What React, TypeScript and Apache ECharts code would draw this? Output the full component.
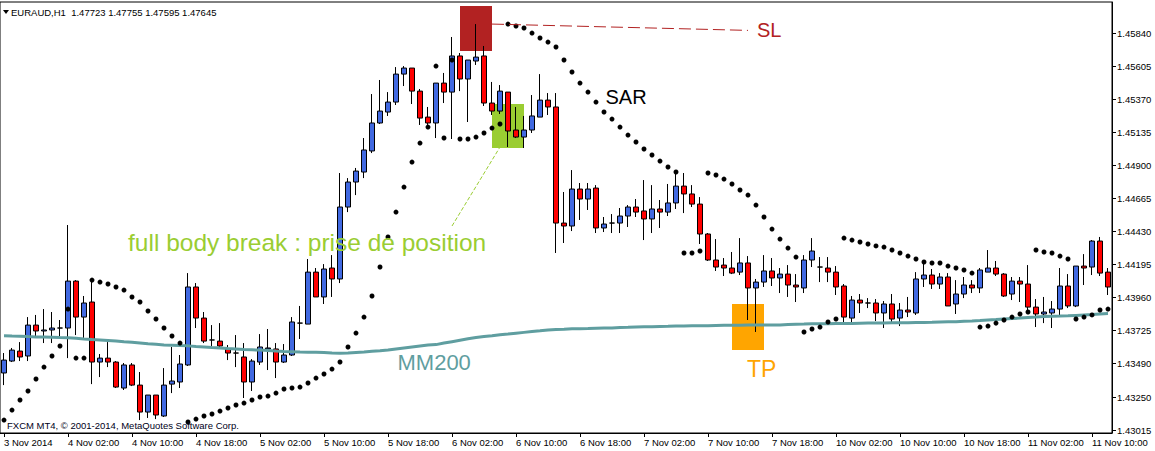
import React, { useEffect, useRef } from 'react';
import * as echarts from 'echarts';

// EURAUD H1 - prix (ordre des barres de gauche à droite)
const openPrices: number[] = [
  1.43421, 1.43506, 1.43577, 1.43542, 1.43762, 1.4372, 1.43727, 1.43741, 1.43741, 1.44075,
  1.43819, 1.43926, 1.43499, 1.43527, 1.43499, 1.43314, 1.43478, 1.43335, 1.43143, 1.43264,
  1.43115, 1.43342, 1.43357, 1.43478, 1.44033, 1.43812, 1.43656, 1.43648, 1.43592, 1.43563,
  1.43535, 1.43357, 1.43499, 1.43592, 1.43592, 1.43499, 1.43549, 1.43776, 1.43769, 1.44139,
  1.43962, 1.44168, 1.4409, 1.44602, 1.4478, 1.44851, 1.45001, 1.452, 1.45278, 1.45349,
  1.45548, 1.45591, 1.45427, 1.45242, 1.452, 1.45484, 1.4542, 1.45677, 1.45513, 1.45641,
  1.45677, 1.45342, 1.45285, 1.4542, 1.4515, 1.451, 1.4515, 1.45242, 1.45363, 1.45314,
  1.44488, 1.44467, 1.4473, 1.44659, 1.44737, 1.44453, 1.44488, 1.44488, 1.44538, 1.44602,
  1.44574, 1.44517, 1.44588, 1.44566, 1.44631, 1.44751, 1.44695, 1.44623, 1.4441, 1.44225,
  1.44189, 1.44168, 1.44139, 1.44204, 1.44026, 1.44068, 1.44147, 1.44097, 1.44125, 1.44047,
  1.44026, 1.44225, 1.44175, 1.44168, 1.44139, 1.4404, 1.43812, 1.4394, 1.43919, 1.43919,
  1.43848, 1.43912, 1.43812, 1.43869, 1.43848, 1.4409, 1.44118, 1.44054, 1.44104, 1.43912,
  1.43983, 1.44047, 1.44026, 1.44139, 1.44168, 1.44125, 1.43983, 1.44075, 1.44054, 1.4389,
  1.43841, 1.43848, 1.43876, 1.4404, 1.43898, 1.44182, 1.44175, 1.4436, 1.44139,
];

const closePrices: number[] = [
  1.43513, 1.43584, 1.43535, 1.43762, 1.4372, 1.43727, 1.43741, 1.43741, 1.44075, 1.43819,
  1.43919, 1.43499, 1.43527, 1.43499, 1.43321, 1.43478, 1.43335, 1.43143, 1.43264, 1.43122,
  1.43335, 1.43364, 1.43485, 1.44033, 1.43812, 1.43648, 1.43656, 1.43613, 1.43563, 1.43563,
  1.43357, 1.43506, 1.43606, 1.43599, 1.43499, 1.43549, 1.43784, 1.43776, 1.44139, 1.43962,
  1.44161, 1.4409, 1.44602, 1.4478, 1.44858, 1.45008, 1.452, 1.45285, 1.45349, 1.45548,
  1.45591, 1.45427, 1.45235, 1.452, 1.45484, 1.4542, 1.45677, 1.45513, 1.45648, 1.45669,
  1.45342, 1.45285, 1.45427, 1.45143, 1.451, 1.4515, 1.4525, 1.45363, 1.45314, 1.44488,
  1.44467, 1.4473, 1.44659, 1.4473, 1.44453, 1.44481, 1.44488, 1.44538, 1.44602, 1.44566,
  1.44517, 1.44588, 1.44566, 1.44631, 1.44751, 1.44695, 1.44623, 1.4441, 1.44225, 1.44175,
  1.44168, 1.44132, 1.44204, 1.44026, 1.44068, 1.44147, 1.44097, 1.44125, 1.44047, 1.44033,
  1.44225, 1.44289, 1.44175, 1.44139, 1.44033, 1.43819, 1.4394, 1.43919, 1.43919, 1.43848,
  1.43912, 1.43805, 1.43869, 1.43855, 1.4409, 1.44118, 1.44054, 1.44104, 1.43898, 1.43983,
  1.44047, 1.44026, 1.44154, 1.44168, 1.44125, 1.43969, 1.44075, 1.44054, 1.4389, 1.43841,
  1.43855, 1.43876, 1.4404, 1.43898, 1.44182, 1.44168, 1.4436, 1.44132, 1.44033,
];

const lowPrices: number[] = [
  1.43335, 1.43499, 1.43506, 1.43506, 1.43677, 1.43634, 1.43634, 1.43677, 1.43527, 1.43691,
  1.4367, 1.43342, 1.43392, 1.43463, 1.43314, 1.433, 1.43328, 1.43086, 1.43101, 1.43093,
  1.43108, 1.43278, 1.43314, 1.43471, 1.43741, 1.43634, 1.43592, 1.43592, 1.43513, 1.43463,
  1.43243, 1.43293, 1.43478, 1.43442, 1.43385, 1.43492, 1.43542, 1.43663, 1.43769, 1.43962,
  1.43912, 1.43962, 1.44061, 1.44566, 1.44687, 1.44808, 1.44986, 1.45193, 1.4525, 1.45328,
  1.45463, 1.45335, 1.45186, 1.45186, 1.45093, 1.45342, 1.45086, 1.45427, 1.45207, 1.45613,
  1.45321, 1.45257, 1.45264, 1.45029, 1.45093, 1.45022, 1.45129, 1.45242, 1.45257, 1.44275,
  1.44346, 1.44431, 1.4451, 1.44581, 1.44417, 1.44424, 1.44417, 1.44417, 1.4446, 1.44531,
  1.44367, 1.44417, 1.44453, 1.44538, 1.44588, 1.44559, 1.44602, 1.44339, 1.44218, 1.44147,
  1.44111, 1.44125, 1.44118, 1.43798, 1.43713, 1.44033, 1.4404, 1.4399, 1.43962, 1.43926,
  1.4399, 1.44175, 1.44068, 1.44068, 1.43976, 1.43776, 1.43776, 1.43848, 1.43883, 1.43791,
  1.43741, 1.43784, 1.43755, 1.43819, 1.43834, 1.44033, 1.44019, 1.44019, 1.43898, 1.43841,
  1.43954, 1.4399, 1.4399, 1.44139, 1.44111, 1.43962, 1.4394, 1.43926, 1.43855, 1.43748,
  1.43776, 1.43741, 1.43834, 1.43883, 1.4389, 1.44047, 1.44118, 1.44111, 1.43976,
];

const highPrices: number[] = [
  1.43563, 1.43599, 1.43641, 1.43819, 1.43834, 1.43876, 1.43855, 1.43798, 1.44474, 1.44082,
  1.43969, 1.44082, 1.43556, 1.43641, 1.43506, 1.43492, 1.43492, 1.43428, 1.43264, 1.43264,
  1.43456, 1.43606, 1.43549, 1.44132, 1.44061, 1.43855, 1.43762, 1.43776, 1.4362, 1.43691,
  1.43634, 1.4352, 1.43698, 1.43734, 1.43634, 1.43627, 1.43819, 1.43898, 1.44232, 1.44168,
  1.44196, 1.4426, 1.44844, 1.44808, 1.4488, 1.45093, 1.45406, 1.45506, 1.4542, 1.45598,
  1.45605, 1.45591, 1.45442, 1.45314, 1.45484, 1.45556, 1.45812, 1.45698, 1.45648, 1.45904,
  1.45748, 1.45492, 1.4547, 1.4542, 1.45314, 1.4525, 1.45399, 1.45548, 1.45413, 1.45413,
  1.44709, 1.44865, 1.44773, 1.44773, 1.44758, 1.44531, 1.44552, 1.44595, 1.44616, 1.44659,
  1.44794, 1.44758, 1.44652, 1.44766, 1.44851, 1.44844, 1.44758, 1.44673, 1.44417, 1.44374,
  1.44239, 1.44282, 1.44381, 1.44253, 1.4409, 1.4426, 1.44239, 1.44168, 1.44189, 1.44125,
  1.4426, 1.44381, 1.44246, 1.44246, 1.44182, 1.44054, 1.43969, 1.43983, 1.43954, 1.43947,
  1.43933, 1.43983, 1.43919, 1.43962, 1.44139, 1.44204, 1.44161, 1.44132, 1.44132, 1.44082,
  1.44104, 1.44082, 1.44168, 1.44296, 1.44218, 1.44132, 1.44104, 1.44104, 1.44189, 1.43947,
  1.43962, 1.43933, 1.44168, 1.44125, 1.44182, 1.44267, 1.44367, 1.44389, 1.44168,
];

// Parabolic SAR
const sarValues: number[] = [
  1.43086, 1.43157, 1.43229, 1.43293, 1.43378, 1.43463, 1.43542, 1.43613, 1.43876, 1.43527,
  1.43527, 1.44082, 1.44068, 1.44054, 1.44033, 1.44011, 1.43962, 1.43926, 1.43862, 1.43805,
  1.43741, 1.43684, 1.43634, 1.43072, 1.43093, 1.43115, 1.43129, 1.4315, 1.43172, 1.43193,
  1.43207, 1.43229, 1.4325, 1.43257, 1.43278, 1.43307, 1.43314, 1.43321, 1.4335, 1.43385,
  1.43414, 1.43449, 1.43499, 1.43606, 1.43705, 1.43819, 1.43969, 1.44175, 1.44389, 1.44566,
  1.44744, 1.44922, 1.45057, 1.45171, 1.45605, 1.45093, 1.45648, 1.45086, 1.45086, 1.451,
  1.45129, 1.45164, 1.45193, 1.45904, 1.4589, 1.45876, 1.4584, 1.45805, 1.45776, 1.45741,
  1.45648, 1.45563, 1.45484, 1.4542, 1.45349, 1.45278, 1.45228, 1.45171, 1.45114, 1.45065,
  1.45015, 1.44972, 1.44929, 1.44887, 1.44851, 1.44275, 1.44275, 1.44289, 1.44844, 1.4483,
  1.44801, 1.44766, 1.44723, 1.44687, 1.44616, 1.44531, 1.44445, 1.44374, 1.4431, 1.44246,
  1.43713, 1.43734, 1.43748, 1.43784, 1.43805, 1.44381, 1.44367, 1.44353, 1.44339, 1.44325,
  1.44317, 1.44296, 1.44275, 1.44253, 1.44232, 1.44211, 1.44204, 1.44204, 1.44182, 1.44168,
  1.44154, 1.44132, 1.43748, 1.43755, 1.43776, 1.43798, 1.43819, 1.43841, 1.43855, 1.44296,
  1.44282, 1.44275, 1.44253, 1.44232, 1.43805, 1.43819, 1.43834, 1.43869, 1.43876,
];

// Moyenne mobile 200
const ma200Values: number[] = [
  1.43686, 1.43684, 1.43683, 1.4368, 1.43678, 1.43677, 1.43676, 1.43673, 1.43672, 1.43668,
  1.43663, 1.43659, 1.43656, 1.43652, 1.43648, 1.43643, 1.43639, 1.43634, 1.43629, 1.43625,
  1.43621, 1.43619, 1.43616, 1.43614, 1.43609, 1.43606, 1.43602, 1.43599, 1.43595, 1.43592,
  1.43588, 1.43586, 1.43584, 1.43581, 1.43577, 1.43574, 1.43572, 1.4357, 1.43569, 1.43568,
  1.43567, 1.43563, 1.43561, 1.43563, 1.43567, 1.4357, 1.43575, 1.43579, 1.43584, 1.43592,
  1.43599, 1.43606, 1.43613, 1.4362, 1.43623, 1.43634, 1.43644, 1.43654, 1.43664, 1.43673,
  1.4368, 1.43686, 1.43693, 1.43698, 1.43704, 1.4371, 1.43716, 1.43721, 1.43727, 1.4373,
  1.43732, 1.43735, 1.43736, 1.43737, 1.43739, 1.43741, 1.43742, 1.43745, 1.43746, 1.43748,
  1.4375, 1.4375, 1.43752, 1.43753, 1.43755, 1.43756, 1.43757, 1.43757, 1.43758, 1.43759,
  1.4376, 1.4376, 1.43761, 1.43762, 1.43762, 1.43762, 1.43762, 1.43762, 1.43766, 1.43768,
  1.43769, 1.43771, 1.43772, 1.43772, 1.43773, 1.43774, 1.43774, 1.43775, 1.43776, 1.43776,
  1.43777, 1.43778, 1.43779, 1.43779, 1.4378, 1.43781, 1.43782, 1.43784, 1.43785, 1.43786,
  1.43789, 1.43791, 1.43794, 1.43798, 1.43801, 1.43805, 1.43809, 1.43812, 1.43816, 1.43819,
  1.43823, 1.43825, 1.43826, 1.43828, 1.43831, 1.43834, 1.43837, 1.43841, 1.43844,
];

// une étiquette toutes les 8 barres
const timeLabels: string[] = [
  '3 Nov 2014', '4 Nov 02:00', '4 Nov 10:00', '4 Nov 18:00', '5 Nov 02:00', '5 Nov 10:00',
  '5 Nov 18:00', '6 Nov 02:00', '6 Nov 10:00', '6 Nov 18:00', '7 Nov 02:00', '7 Nov 10:00',
  '7 Nov 18:00', '10 Nov 02:00', '10 Nov 10:00', '10 Nov 18:00', '11 Nov 02:00', '11 Nov 10:00',
];
const LABEL_STEP = 8;

const priceTicks: number[] = [
  1.43015, 1.4325, 1.4349, 1.43725, 1.4396, 1.44195, 1.4443, 1.44665, 1.449, 1.45135,
  1.4537, 1.45605, 1.4584,
];

const FONT = '"Liberation Sans", Arial, sans-serif';

const App: React.FC = () => {
  const chartRef = useRef<HTMLDivElement | null>(null);

  useEffect(() => {
    if (!chartRef.current) return;
    const chart = echarts.init(chartRef.current, undefined, { renderer: 'svg' });

    const categories = openPrices.map((_, i) => String(i));
    const candles = openPrices.map((o, i) => [o, closePrices[i], lowPrices[i], highPrices[i]]);
    const showLabel = (index: number) => index % LABEL_STEP === 0;

    const annotation = (text: string, x: number, y: number, size: number, color: string) => ({
      type: 'text',
      x,
      y,
      silent: true,
      z: 100,
      style: {
        text,
        fill: color,
        fontSize: size,
        fontFamily: FONT,
        align: 'left',
        verticalAlign: 'middle',
      },
    });

    const option = {
      animation: false,
      backgroundColor: '#fff',
      textStyle: { fontFamily: FONT },
      grid: {
        left: 0,
        top: 2,
        width: 1112,
        height: 431,
        show: true,
        borderColor: '#000',
        borderWidth: 1,
        backgroundColor: 'transparent',
      },
      xAxis: {
        type: 'category',
        data: categories,
        boundaryGap: true,
        axisLine: { show: true, lineStyle: { color: '#000', width: 1 } },
        axisTick: {
          show: true,
          alignWithLabel: true,
          interval: showLabel,
          length: 4,
          lineStyle: { color: '#000' },
        },
        axisLabel: {
          interval: showLabel,
          formatter: (_v: string, index: number) => timeLabels[index / LABEL_STEP] ?? '',
          align: 'left',
          margin: 4,
          color: '#000',
          fontSize: 9.5,
          fontFamily: FONT,
        },
        splitLine: { show: false },
      },
      yAxis: {
        type: 'value',
        position: 'right',
        min: 1.42994,
        max: 1.46061,
        scale: true,
        axisLine: { show: true, lineStyle: { color: '#000', width: 1 } },
        axisTick: {
          show: true,
          length: 4,
          customValues: priceTicks,
          lineStyle: { color: '#000' },
        },
        axisLabel: {
          customValues: priceTicks,
          formatter: (v: number) => v.toFixed(5),
          margin: 5,
          color: '#000',
          fontSize: 9.5,
          fontFamily: FONT,
        },
        splitLine: { show: false },
      },
      series: [
        {
          name: 'EURAUD',
          type: 'candlestick',
          data: candles,
          barWidth: 5,
          z: 2,
          itemStyle: {
            color: '#4169E1',
            color0: '#FF0000',
            borderColor: '#000',
            borderColor0: '#000',
            borderColorDoji: '#000',
            borderWidth: 1,
          },
          // rectangles SL / entrée / TP
          markArea: {
            silent: true,
            data: [
              [{ coord: [57, 1.46032], itemStyle: { color: '#B22222', opacity: 1 } }, { coord: [61, 1.45712] }],
              [{ coord: [61, 1.45335], itemStyle: { color: '#9ACD32', opacity: 1 } }, { coord: [65, 1.45022] }],
              [{ coord: [91, 1.43912], itemStyle: { color: '#FFA500', opacity: 1 } }, { coord: [95, 1.43584] }],
            ],
          },
          markLine: {
            silent: true,
            symbol: ['none', 'none'],
            label: { show: false },
            data: [
              [
                { coord: [61, 1.45904], lineStyle: { color: '#B22222', width: 1, type: [12, 5] } },
                { coord: [93, 1.45859] },
              ],
              [
                { coord: [56, 1.44467], lineStyle: { color: '#9ACD32', width: 1, type: [4, 2] } },
                { coord: [62, 1.45029] },
              ],
            ],
          },
        },
        {
          name: 'MM200',
          type: 'line',
          data: ma200Values,
          showSymbol: false,
          z: 3,
          lineStyle: { color: '#5F9EA0', width: 3 },
        },
        {
          name: 'SAR',
          type: 'scatter',
          data: sarValues,
          symbol: 'circle',
          symbolSize: 5,
          z: 4,
          itemStyle: { color: '#000', opacity: 1 },
        },
      ],
      graphic: [
        {
          type: 'polygon',
          silent: true,
          shape: { points: [[3, 10], [9, 10], [6, 14]] },
          style: { fill: '#000' },
        },
        annotation('EURAUD,H1  1.47723 1.47755 1.47595 1.47645', 11, 12.5, 9.5, '#000'),
        annotation('FXCM MT4, \u00a9 2001-2014, MetaQuotes Software Corp.', 7, 425.5, 9.5, '#000020'),
        annotation('SL', 757, 29.8, 20, '#B22222'),
        annotation('SAR', 605.5, 97, 20, '#000'),
        annotation('full body break : prise de position', 128, 242, 24.5, '#9ACD32'),
        annotation('MM200', 397.5, 362.4, 22, '#5F9EA0'),
        annotation('TP', 747, 368.7, 23, '#FFA500'),
      ],
    };

    chart.setOption(option);

    return () => {
      chart.dispose();
    };
  }, []);

  return (
    <div
      ref={chartRef}
      style={{ position: 'absolute', left: 0, top: 0, width: '1155px', height: '451px', margin: 0, background: '#fff' }}
    />
  );
};

export default App;
